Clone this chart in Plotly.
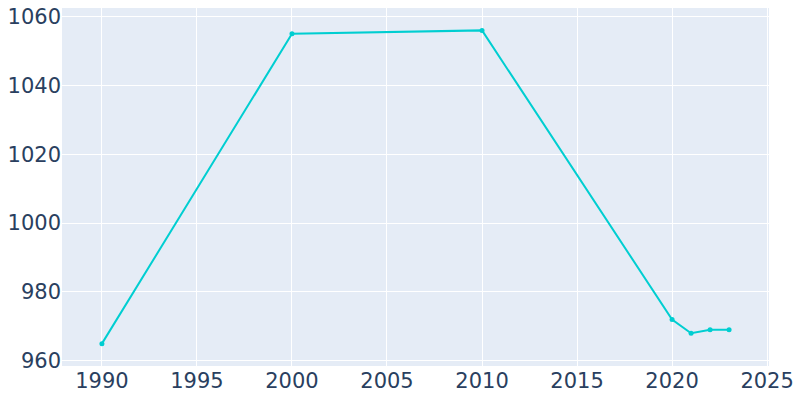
import plotly.graph_objects as go

years = [1990, 2000, 2010, 2020, 2021, 2022, 2023]
population = [965, 1055, 1056, 972, 968, 969, 969]

fig = go.Figure()
fig.add_trace(go.Scatter(
    x=years, y=population, mode="lines+markers",
    line=dict(color="#00CED1", width=2),
    marker=dict(size=5, color="#00CED1"),
))
fig.update_layout(
    width=800, height=400,
    margin=dict(l=62, r=31, t=8, b=34),
    template="plotly",
    font=dict(size=21, family="DejaVu Sans, sans-serif", color="#2a3f5f"),
    showlegend=False,
)
fig.update_xaxes(range=[1987.9, 2025.1], tickvals=[1990, 1995, 2000, 2005, 2010, 2015, 2020, 2025],
                 automargin=False, ticklabeloverflow="allow")
fig.update_yaxes(range=[958.5, 1062.5], tickvals=[960, 980, 1000, 1020, 1040, 1060],
                 automargin=False, ticklabeloverflow="allow")
fig.write_html("out.html", config={"displayModeBar": False},
               post_script="document.body.style.margin='0';")
